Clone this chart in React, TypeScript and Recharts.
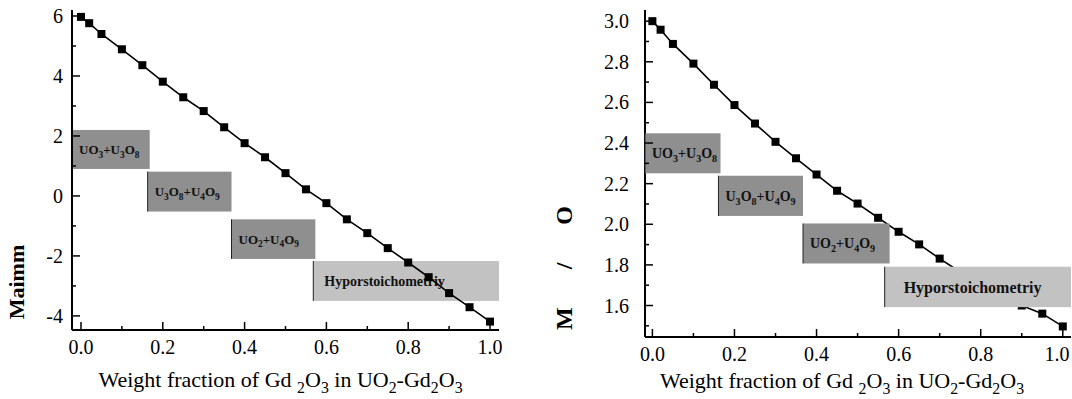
import React from "react";
import { LineChart, Line, XAxis, YAxis, ReferenceArea, Label } from "recharts";

const FONT = '"Liberation Serif", "Times New Roman", Times, serif';

// weight fraction of Gd2O3
const fractions = [0, 0.02, 0.05, 0.1, 0.15, 0.2, 0.25, 0.3, 0.35, 0.4, 0.45, 0.5, 0.55, 0.6, 0.65, 0.7, 0.75, 0.8, 0.85, 0.9, 0.95, 1.0];
// left panel values
const maximum = [5.97, 5.76, 5.4, 4.89, 4.36, 3.81, 3.29, 2.83, 2.29, 1.76, 1.29, 0.76, 0.22, -0.24, -0.78, -1.24, -1.74, -2.22, -2.71, -3.24, -3.71, -4.19];
// right panel M/O ratio
const moRatio = [3.0, 2.958, 2.888, 2.791, 2.687, 2.587, 2.496, 2.406, 2.325, 2.245, 2.165, 2.102, 2.032, 1.963, 1.901, 1.831, 1.765, 1.7, 1.645, 1.6, 1.56, 1.497];

const xMajor = [0, 0.2, 0.4, 0.6, 0.8, 1.0];
const xMinor = [0.1, 0.3, 0.5, 0.7, 0.9];
const leftMajor = [-4, -2, 0, 2, 4, 6];
const leftMinor = [-3, -1, 1, 3, 5];
const rightMajor = [1.6, 1.8, 2.0, 2.2, 2.4, 2.6, 2.8, 3.0];
const rightMinor = [1.5, 1.7, 1.9, 2.1, 2.3, 2.5, 2.7, 2.9];

// phase regions ("_" marks a subscript)
const phaseNames = ["UO_3+U_3O_8", "U_3O_8+U_4O_9", "UO_2+U_4O_9", "Hyporstoichometriy"];
const phaseFills = ["#8f8f8f", "#8f8f8f", "#8f8f8f", "#c2c2c2"];
const leftPhaseX = [[-0.022, 0.168], [0.163, 0.368], [0.368, 0.573], [0.568, 1.022]];
const leftPhaseY = [[2.2, 0.9], [0.81, -0.52], [-0.78, -2.1], [-2.17, -3.5]];
const rightPhaseX = [[-0.018, 0.166], [0.161, 0.367], [0.367, 0.578], [0.566, 1.02]];
const rightPhaseY = [[2.448, 2.251], [2.239, 2.041], [2.004, 1.807], [1.791, 1.592]];

const rows = fractions.map((f, i) => ({ x: f, max: maximum[i], mo: moRatio[i] }));
const xTicks = [...xMajor, ...xMinor].sort((a, b) => a - b);

const has = (list: number[], v: number) => list.some((m) => Math.abs(m - v) < 1e-6);

function chem(text: string, size: number) {
  const segs = text.split(/(_.)/).filter(Boolean);
  let down = false;
  return segs.map((s, i) => {
    if (s[0] === "_") {
      const dy = down ? 0 : size * 0.28;
      down = true;
      return (
        <tspan key={i} fontSize={size * 0.72} dy={dy}>
          {s[1]}
        </tspan>
      );
    }
    const dy = down ? -size * 0.28 : 0;
    down = false;
    return (
      <tspan key={i} dy={dy}>
        {s}
      </tspan>
    );
  });
}

const SquareDot = (props: any) => {
  const { cx, cy, index } = props;
  return <rect key={`d${index}`} x={cx - 4} y={cy - 4} width={8} height={8} fill="#000" />;
};

// bottom ticks point inward; labels kept inside the chart width
const makeBottomTick = (maxX: number) => (props: any) => {
  const { x, y, payload } = props;
  const major = has(xMajor, payload.value);
  return (
    <g>
      <line x1={x} x2={x} y1={y} y2={y - (major ? 8 : 4)} stroke="#000" strokeWidth={1.5} />
      {major && (
        <text
          x={Math.min(x, maxX)}
          y={y + 10}
          dy="0.71em"
          textAnchor="middle"
          fontSize={20}
          fontFamily={FONT}
          style={{ fontFamily: FONT }}
          fill="#000"
        >
          {payload.value.toFixed(1)}
        </text>
      )}
    </g>
  );
};

const makeSideTick = (majors: number[], gap: number, digits: number) => (props: any) => {
  const { x, y, payload } = props;
  const major = has(majors, payload.value);
  return (
    <g>
      <line x1={x} x2={x + (major ? 8 : 4)} y1={y} y2={y} stroke="#000" strokeWidth={1.5} />
      {major && (
        <text
          x={x - gap}
          y={y}
          dy="0.35em"
          textAnchor="end"
          fontSize={20}
          fontFamily={FONT}
          style={{ fontFamily: FONT }}
          fill="#000"
        >
          {payload.value.toFixed(digits)}
        </text>
      )}
    </g>
  );
};

const makeBox = (name: string, fill: string, size: number, pad: number) => (props: any) => {
  const { x, y, width, height } = props;
  return (
    <g>
      <rect x={x} y={y} width={width} height={height} fill={fill} />
      <line x1={x} x2={x} y1={y} y2={y + height} stroke="#222" strokeWidth={1} />
      <text
        x={x + pad}
        y={y + height / 2 + size * 0.35}
        fontSize={size}
        fontWeight="bold"
        fontFamily={FONT}
        style={{ fontFamily: FONT }}
        fill="#111"
      >
        {chem(name, size)}
      </text>
    </g>
  );
};

const xTitle = "Weight fraction of Gd _2O_3 in UO_2-Gd_2O_3";

const XTitle = (shift: number, base: number) => (props: any) => {
  const vb = props.viewBox;
  return (
    <text
      x={vb.x + vb.width / 2 + shift}
      y={vb.y + base}
      textAnchor="middle"
      fontSize={22}
      fontFamily={FONT}
      style={{ fontFamily: FONT }}
      fill="#000"
    >
      {chem(xTitle, 22)}
    </text>
  );
};

const frame = { stroke: "#000", strokeWidth: 2 };

function LeftPanel() {
  const xDomain = [-0.022, 1.022];
  return (
    <LineChart width={520} height={399} data={rows} margin={{ top: 10, right: 21, bottom: 0, left: 0 }}>
      <XAxis
        dataKey="x"
        type="number"
        domain={xDomain}
        allowDataOverflow
        ticks={xTicks}
        interval={0}
        tickSize={0}
        tickMargin={0}
        tickLine={false}
        tick={makeBottomTick(520)}
        axisLine={frame}
        height={69}
      >
        <Label content={XTitle(-5, 57)} />
      </XAxis>
      <XAxis xAxisId="top" orientation="top" type="number" domain={xDomain} height={0} tick={false} tickLine={false} axisLine={frame} />
      <YAxis
        type="number"
        domain={[-4.47, 6.2]}
        allowDataOverflow
        ticks={[...leftMajor, ...leftMinor].sort((a, b) => a - b)}
        interval={0}
        tickSize={0}
        tickMargin={0}
        tickLine={false}
        tick={makeSideTick(leftMajor, 9, 0)}
        axisLine={frame}
        width={72}
      >
        <Label
          content={(p: any) => (
            <text
              transform={`translate(16, ${p.viewBox.y + 272}) rotate(-90)`}
              textAnchor="middle"
              dy="0.35em"
              fontSize={22}
              fontWeight="bold"
              fontFamily={FONT}
              style={{ fontFamily: FONT }}
              fill="#000"
            >
              Maimm
            </text>
          )}
        />
      </YAxis>
      <YAxis yAxisId="right" orientation="right" type="number" domain={[-4.47, 6.2]} width={0} tick={false} tickLine={false} axisLine={frame} />
      {phaseNames.map((n, i) => (
        <ReferenceArea
          key={n}
          x1={leftPhaseX[i][0]}
          x2={leftPhaseX[i][1]}
          y1={leftPhaseY[i][0]}
          y2={leftPhaseY[i][1]}
          ifOverflow="visible"
          shape={makeBox(n, phaseFills[i], i === 3 ? 14 : 13, i === 3 ? 11 : 7)}
        />
      ))}
      <Line type="linear" dataKey="max" stroke="#000" strokeWidth={1.6} dot={SquareDot} isAnimationActive={false} />
    </LineChart>
  );
}

function RightPanel() {
  const xDomain = [-0.018, 1.02];
  return (
    <LineChart width={532} height={399} data={rows} margin={{ top: 10, right: 1, bottom: 0, left: 0 }}>
      <XAxis
        dataKey="x"
        type="number"
        domain={xDomain}
        allowDataOverflow
        ticks={xTicks}
        interval={0}
        tickSize={0}
        tickMargin={0}
        tickLine={false}
        tick={makeBottomTick(517)}
        axisLine={frame}
        height={62}
      >
        <Label content={XTitle(-16, 51)} />
      </XAxis>
      <XAxis xAxisId="top" orientation="top" type="number" domain={xDomain} height={0} tick={false} tickLine={false} axisLine={frame} />
      <YAxis
        type="number"
        domain={[1.445, 3.055]}
        allowDataOverflow
        ticks={[...rightMajor, ...rightMinor].sort((a, b) => a - b)}
        interval={0}
        tickSize={0}
        tickMargin={0}
        tickLine={false}
        tick={makeSideTick(rightMajor, 16, 1)}
        axisLine={frame}
        width={105}
      >
        <Label
          content={(p: any) => (
            <text
              transform={`translate(24, ${p.viewBox.y + 250}) rotate(-90)`}
              textAnchor="middle"
              dy="0.35em"
              fontSize={24}
              fontWeight="bold"
              fontFamily={FONT}
              style={{ fontFamily: FONT }}
              letterSpacing={16}
              fill="#000"
            >
              M / O
            </text>
          )}
        />
      </YAxis>
      <YAxis yAxisId="right" orientation="right" type="number" domain={[1.445, 3.055]} width={0} tick={false} tickLine={false} axisLine={frame} />
      <Line type="linear" dataKey="mo" stroke="#000" strokeWidth={1.6} dot={SquareDot} isAnimationActive={false} />
      {phaseNames.map((n, i) => (
        <ReferenceArea
          key={n}
          x1={rightPhaseX[i][0]}
          x2={rightPhaseX[i][1]}
          y1={rightPhaseY[i][0]}
          y2={rightPhaseY[i][1]}
          ifOverflow="visible"
          zIndex={1000}
          shape={makeBox(n, phaseFills[i], i === 3 ? 16 : 14, i === 3 ? 19 : 7)}
        />
      ))}
    </LineChart>
  );
}

export default function App() {
  return (
    <div style={{ position: "absolute", left: 0, top: 0, width: 1072, height: 399, background: "#fff" }}>
      <div style={{ position: "absolute", left: 0, top: 0 }}>
        <LeftPanel />
      </div>
      <div style={{ position: "absolute", left: 540, top: 0 }}>
        <RightPanel />
      </div>
    </div>
  );
}
